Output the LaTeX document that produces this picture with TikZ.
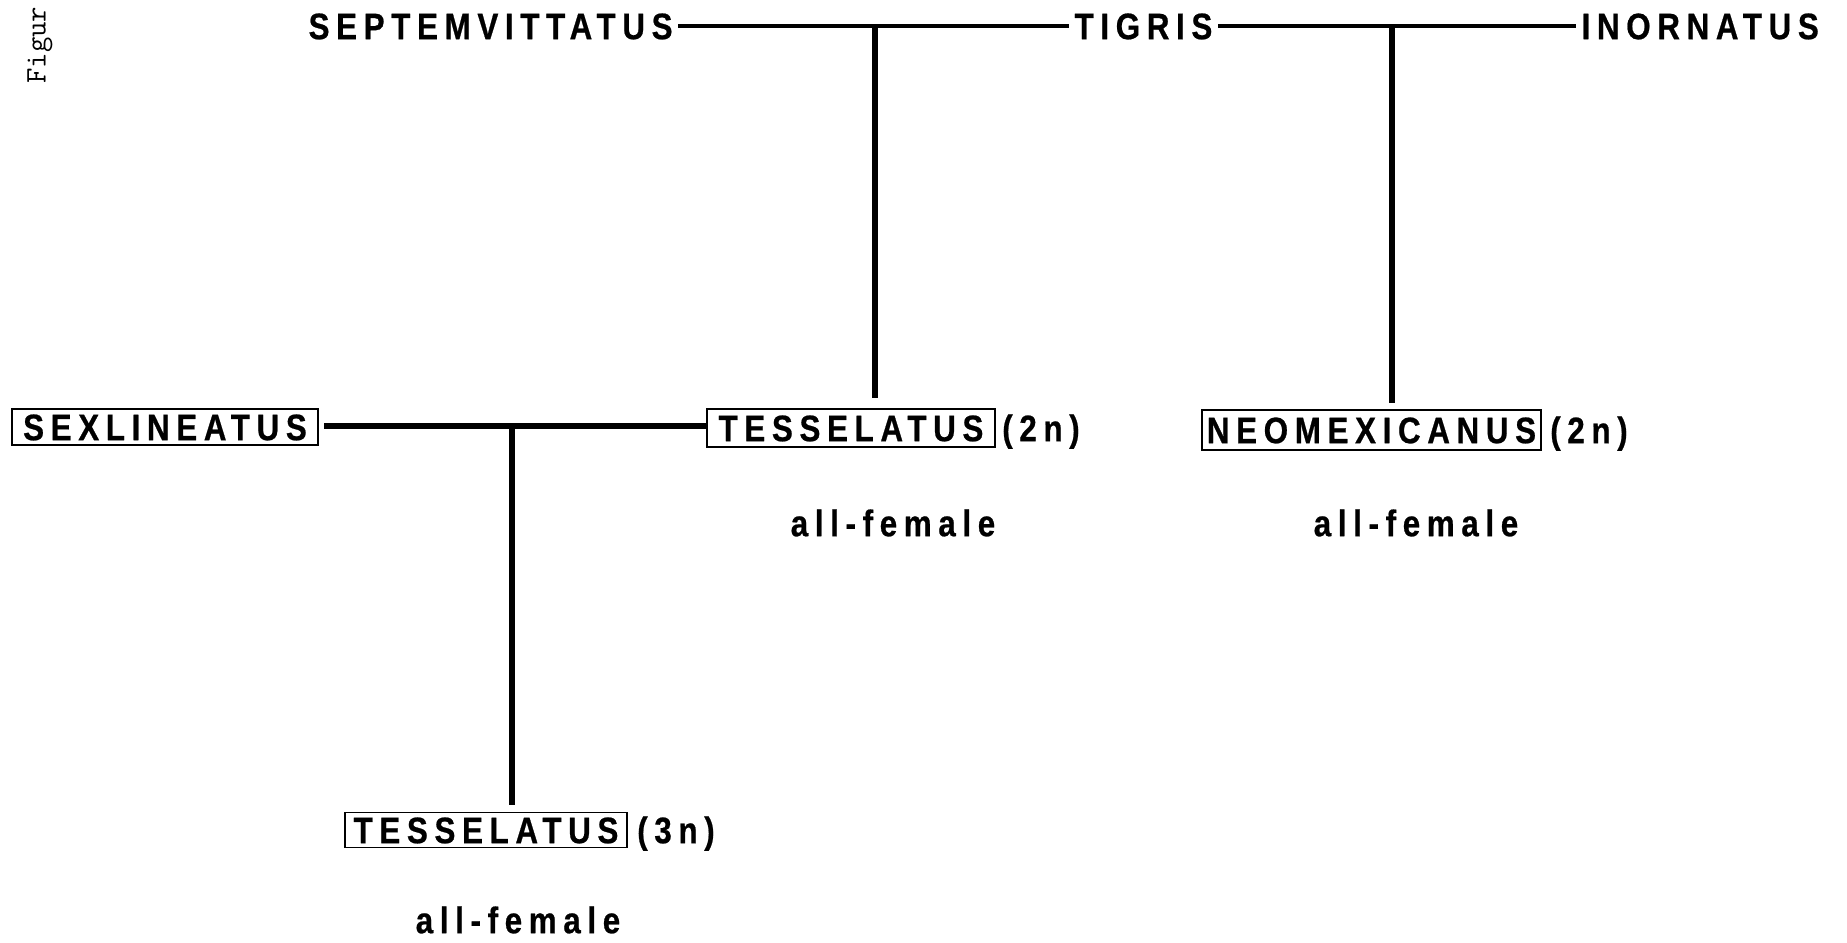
\documentclass[tikz,border=0pt]{standalone}
\usepackage{fontspec}
\setmainfont{Liberation Sans}
\newfontfamily\labfont{Liberation Sans}[LetterSpace=18, FakeStretch=0.85, FakeBold=0.6]
\begin{document}
\begin{tikzpicture}[x=0.02cm,y=-0.02cm,
  lab/.style={font=\labfont\bfseries\fontsize{21}{21}\selectfont, inner sep=0pt, text height=15pt, text depth=0pt},
  toplab/.style={lab, inner xsep=3pt},
  boxed/.style={lab, draw, line width=1.1pt},
  link/.style={line width=2.1pt},
  thicklink/.style={line width=3.2pt},
  stem/.style={line width=3.4pt}]
\useasboundingbox (0,0) rectangle (1847,943);
% top row
\node[toplab, anchor=west] (sep) at (303,26) {SEPTEMVITTATUS};
\node[toplab, anchor=west] (tig) at (1069,26) {TIGRIS};
\node[toplab, anchor=west] (ino) at (1576,26) {INORNATUS};
\draw[link] (sep.east) -- (tig.west);
\draw[link] (tig.east) -- (ino.west);
\coordinate (j1) at (875,26);
\coordinate (j1e) at (875,398);
\coordinate (j2) at (1392,26);
\coordinate (j2e) at (1392,403);
\draw[stem] (j1) -- (j1e);
\draw[stem] (j2) -- (j2e);
% middle row
\node[boxed, minimum width=6.12cm, minimum height=0.72cm] (sex) at (165,427) {SEXLINEATUS};
\node[boxed, minimum width=5.76cm, minimum height=0.76cm] (tes2) at (851,428) {TESSELATUS};
\node[boxed, minimum width=6.78cm, minimum height=0.80cm] (neo) at (1371.5,430) {NEOMEXICANUS};
\node[lab, anchor=west] (n2a) at ([xshift=0.12cm]tes2.east) {(2n)};
\node[lab, anchor=west] (n2b) at ([xshift=0.16cm]neo.east) {(2n)};
\node[lab] (af1) at (893,523) {all-female};
\node[lab] (af2) at (1416,523) {all-female};
\coordinate (l0) at (324,426);
\draw[thicklink] (l0) -- (tes2.west |- l0);
\coordinate (j3) at (512,426);
\coordinate (j3e) at (512,805);
\draw[stem] (j3) -- (j3e);
% bottom
\node[boxed, minimum width=5.64cm, minimum height=0.70cm] (tes3) at (486,830) {TESSELATUS};
\node[lab, anchor=west] (n3) at ([xshift=0.18cm]tes3.east) {(3n)};
\node[lab] (af3) at (518,920) {all-female};
% scan margin text
\node[font=\ttfamily\fontsize{17}{17}\selectfont, rotate=90, anchor=west, inner sep=0pt] (fig) at (40,84) {Figur};
\end{tikzpicture}
\end{document}
